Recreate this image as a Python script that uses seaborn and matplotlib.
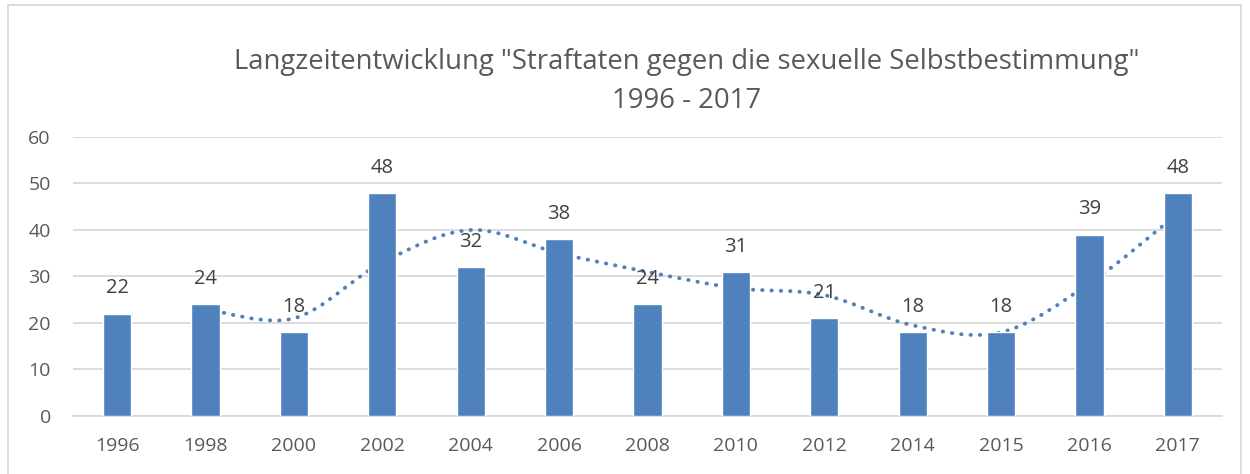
import numpy as np
import pandas as pd
import seaborn as sns
from matplotlib import pyplot as plt
from matplotlib.path import Path
from matplotlib.patches import PathPatch, Rectangle

# data
years = ["1996", "1998", "2000", "2002", "2004", "2006", "2008",
         "2010", "2012", "2014", "2015", "2016", "2017"]
cases = [22, 24, 18, 48, 32, 38, 24, 31, 21, 18, 18, 39, 48]
# Excel 2-period moving average trend line (starts at 1998)
trend_years = years[1:]
trend_vals = [23, 21, 33, 40, 35, 31, 27.5, 26, 19.5, 18, 28.5, 43.5]
y_ticks = [0, 10, 20, 30, 40, 50, 60]

BLUE = "#4F81BD"
GRID = "#D9D9D9"
TXT = "#595959"

sns.set_theme(style="white")
plt.rcParams["font.family"] = ["Open Sans", "DejaVu Sans"]

fig = plt.figure(figsize=(12.5, 4.74), dpi=100)
ax = fig.add_axes([0.0584, 0.1224, 0.9192, 0.5886])

df = pd.DataFrame({"Jahr": years, "Fälle": cases})
sns.barplot(data=df, x="Jahr", y="Fälle", color=BLUE, width=0.32,
            saturation=1, ax=ax, zorder=3)

# smoothed trend line (Catmull-Rom -> cubic bezier), drawn behind the bars
xs = np.array([years.index(y) for y in trend_years], dtype=float)
ys = np.array(trend_vals, dtype=float)
pts = np.column_stack([xs, ys])
verts = [pts[0]]
codes = [Path.MOVETO]
for i in range(len(pts) - 1):
    p0 = pts[i - 1] if i > 0 else pts[i]
    p1, p2 = pts[i], pts[i + 1]
    p3 = pts[i + 2] if i + 2 < len(pts) else pts[i + 1]
    c1 = p1 + (p2 - p0) / 6
    c2 = p2 - (p3 - p1) / 6
    verts += [c1, c2, p2]
    codes += [Path.CURVE4] * 3
trend = PathPatch(Path(verts, codes), fill=False, edgecolor=BLUE,
                  linewidth=2.8, linestyle=(0, (0.1, 2.3)),
                  capstyle="round", zorder=2)
ax.add_patch(trend)

# data labels
for i, v in enumerate(cases):
    ax.annotate(str(v), (i, v), xytext=(0, 11), textcoords="offset points",
                ha="center", va="bottom", fontsize=14.5, color="#404040",
                zorder=4)

ax.set_xlim(-0.5, 12.5)
ax.set_ylim(0, 60)
ax.set_yticks(y_ticks)
ax.set_xlabel("")
ax.set_ylabel("")
ax.grid(axis="y", color=GRID, linewidth=1.3, zorder=0)
ax.set_axisbelow(True)
for side in ["top", "right", "left"]:
    ax.spines[side].set_visible(False)
ax.spines["bottom"].set_color(GRID)
ax.spines["bottom"].set_linewidth(1.3)
ax.tick_params(axis="both", length=0, labelsize=14, colors=TXT)
ax.tick_params(axis="x", pad=15)
ax.tick_params(axis="y", pad=16)

fig.text(0.549, 0.87, "Langzeitentwicklung \"Straftaten gegen die sexuelle "
         "Selbstbestimmung\"", ha="center", va="center", fontsize=19.8,
         color=TXT)
fig.text(0.549, 0.786, "1996 - 2017", ha="center", va="center",
         fontsize=19.8, color=TXT)

# chart frame
fig.patches.append(Rectangle((0.0064, -0.01), 0.986, 0.999,
                             transform=fig.transFigure, fill=False,
                             edgecolor=GRID, linewidth=1.3))

fig.savefig("out.png", dpi=100)
